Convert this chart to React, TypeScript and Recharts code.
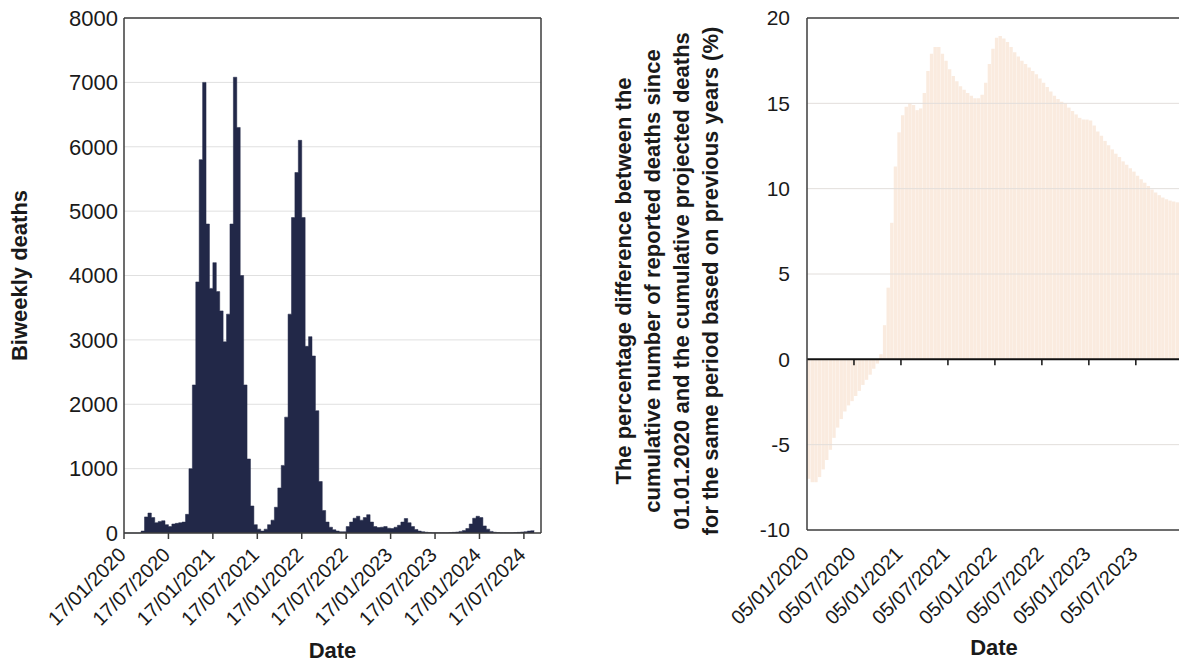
import React from "react";
import {
  Area,
  AreaChart,
  Bar,
  BarChart,
  CartesianGrid,
  ReferenceLine,
  XAxis,
  YAxis,
} from "recharts";

const FONT = '"Liberation Sans", Arial, Helvetica, sans-serif';
const INK = "#1a1a1a";
const FRAME = "#3c3c3c";

// Deaths per two-week period, starting 17/01/2020
const biweeklyDeaths = [
  0, 0, 0, 0, 0, 30, 250, 310, 240, 160,
  180, 190, 130, 100, 140, 150, 160, 170, 290, 1000,
  2300, 3900, 5800, 7000, 4800, 3800, 4200, 3750, 3450, 2970,
  3400, 4800, 7080, 6300, 4000, 2300, 1150, 420, 130, 60,
  30, 60, 130, 200, 400, 700, 1050, 1800, 3400, 4900,
  5600, 6100, 4900, 2900, 3050, 2750, 1900, 800, 350, 170,
  90, 50, 30, 20, 20, 100, 170, 230, 260, 200,
  240, 285, 170, 100, 85, 90, 100, 75, 70, 90,
  120, 170, 225, 160, 100, 55, 30, 20, 12, 8,
  5, 5, 5, 5, 5, 8, 10, 15, 25, 40,
  70, 140, 230, 260, 240, 110, 60, 25, 12, 8,
  5, 5, 5, 5, 8, 10, 15, 20, 30, 35,
  30,
];
const deathsTickLabels = [
  "17/01/2020", "17/07/2020", "17/01/2021", "17/07/2021", "17/01/2022",
  "17/07/2022", "17/01/2023", "17/07/2023", "17/01/2024", "17/07/2024",
];
const deathsYTicks = [0, 1000, 2000, 3000, 4000, 5000, 6000, 7000, 8000];

// Cumulative excess (%) every two weeks, starting 05/01/2020
const excessPercent = [
  -7.0, -7.2, -7.2, -6.9, -6.45, -5.9, -5.3, -4.6, -4.0, -3.5,
  -3.05, -2.7, -2.45, -2.15, -1.85, -1.5, -1.2, -0.9, -0.55, -0.25,
  0.3, 2.0, 4.2, 8.0, 11.3, 13.3, 14.3, 14.8, 15.0, 14.9,
  14.6, 14.7, 15.6, 16.9, 17.9, 18.3, 18.3, 17.9, 17.5, 17.0,
  16.6, 16.3, 16.0, 15.8, 15.6, 15.45, 15.3, 15.3, 15.5, 16.2,
  17.3, 18.2, 18.85, 18.95, 18.8, 18.6, 18.3, 18.0, 17.75, 17.5,
  17.3, 17.1, 16.9, 16.7, 16.45, 16.2, 15.95, 15.7, 15.45, 15.25,
  15.1, 15.0, 14.75, 14.55, 14.35, 14.15, 14.05, 14.05, 14.0, 13.7,
  13.35, 13.1, 12.8, 12.55, 12.3, 12.05, 11.85, 11.6, 11.4, 11.2,
  11.0, 10.75, 10.55, 10.35, 10.15, 9.95, 9.78, 9.62, 9.48, 9.38,
  9.3, 9.25, 9.2,
];
const excessTickLabels = [
  "05/01/2020", "05/07/2020", "05/01/2021", "05/07/2021",
  "05/01/2022", "05/07/2022", "05/01/2023", "05/07/2023",
];
const excessYTicks = [-10, -5, 0, 5, 10, 15, 20];
const excessGrid = [-5, 5, 10, 15];

const excessTitle = [
  "The percentage difference between the",
  "cumulative number of reported deaths since",
  "01.01.2020 and the cumulative projected deaths",
  "for the same period based on previous years (%)",
];

const WEEKS_PER_TICK = 26;

const deathsData = biweeklyDeaths.map((deaths, i) => ({ week: i * 2, deaths }));
const excessData = excessPercent.map((pct, i) => ({ week: i * 2 + 1, pct }));
const deathsTicks = deathsTickLabels.map((_, i) => i * WEEKS_PER_TICK);
const excessTicks = excessTickLabels.map((_, i) => i * WEEKS_PER_TICK);

function DateTick(props: any) {
  const { x, y, payload, labels, dx, dy } = props;
  const label = labels[Math.round(payload.value / WEEKS_PER_TICK)];
  const ax = x + dx;
  const ay = y + dy;
  return (
    <text
      x={ax}
      y={ay}
      transform={`rotate(-45, ${ax}, ${ay})`}
      textAnchor="end"
      fontSize={20}
      fontFamily={FONT}
      fill={INK}
    >
      {label}
    </text>
  );
}

function DeathsTitle(props: any) {
  const vb = props.viewBox;
  const cx = vb.x + 19;
  const cy = vb.y + vb.height / 2;
  return (
    <text
      x={cx}
      y={cy}
      dy="0.35em"
      transform={`rotate(-90, ${cx}, ${cy})`}
      textAnchor="middle"
      fontSize={22}
      fontWeight="bold"
      fontFamily={FONT}
      fill={INK}
    >
      Biweekly deaths
    </text>
  );
}

function ExcessTitle(props: any) {
  const vb = props.viewBox;
  const cy = vb.y + vb.height / 2 + 7;
  return (
    <g>
      {excessTitle.map((line, i) => {
        const cx = vb.x + 33 + i * 29;
        return (
          <text
            key={line}
            x={cx}
            y={cy}
            dy="0.35em"
            transform={`rotate(-90, ${cx}, ${cy})`}
            textAnchor="middle"
            fontSize={22}
            fontWeight="bold"
            fontFamily={FONT}
            fill={INK}
          >
            {line}
          </text>
        );
      })}
    </g>
  );
}

const deathsTickStyle = { fontSize: 22, fill: INK, fontFamily: FONT };
const excessTickStyle = { fontSize: 21, fill: INK, fontFamily: FONT };
const dateLabelStyle = { fontSize: 22, fontWeight: "bold", fill: INK, fontFamily: FONT };

export default function App() {
  return (
    <div
      style={{
        position: "absolute",
        left: 0,
        top: 0,
        width: 1179,
        height: 662,
        overflow: "hidden",
        background: "#ffffff",
      }}
    >
      <div style={{ position: "absolute", left: 0, top: 0 }}>
        <AreaChart
          width={560}
          height={662}
          data={deathsData}
          margin={{ top: 18, right: 19, bottom: 0, left: 0 }}
        >
          <CartesianGrid vertical={false} stroke="#e0e0e0" />
          <XAxis
            dataKey="week"
            type="number"
            domain={[0, 244]}
            ticks={deathsTicks}
            interval={0}
            height={129}
            tickSize={6}
            tickLine={{ stroke: FRAME, strokeWidth: 1.5 }}
            axisLine={{ stroke: FRAME, strokeWidth: 1.5 }}
            tick={(p: any) => <DateTick {...p} labels={deathsTickLabels} dx={3} dy={15} />}
            label={{ value: "Date", position: "insideBottom", offset: 4, style: dateLabelStyle }}
          />
          <YAxis
            domain={[0, 8000]}
            ticks={deathsYTicks}
            interval={0}
            width={124}
            tickLine={false}
            tickMargin={0}
            axisLine={{ stroke: FRAME, strokeWidth: 1.5 }}
            tick={deathsTickStyle}
            label={<DeathsTitle />}
          />
          <Area
            type="stepAfter"
            dataKey="deaths"
            stroke="#222848"
            strokeWidth={0.5}
            fill="#222848"
            fillOpacity={1}
            dot={false}
            activeDot={false}
            isAnimationActive={false}
          />
          <ReferenceLine y={8000} stroke={FRAME} strokeWidth={1.5} />
          <ReferenceLine x={244} stroke={FRAME} strokeWidth={1.5} />
        </AreaChart>
      </div>

      <div style={{ position: "absolute", left: 590, top: 0 }}>
        <BarChart
          width={595}
          height={662}
          data={excessData}
          margin={{ top: 18, right: 4, bottom: 0, left: 0 }}
        >
          <XAxis
            dataKey="week"
            type="number"
            domain={[0, 207]}
            ticks={excessTicks}
            interval={0}
            height={132}
            tickLine={false}
            axisLine={{ stroke: FRAME, strokeWidth: 1.5 }}
            tick={(p: any) => <DateTick {...p} labels={excessTickLabels} dx={3} dy={17} />}
            label={{ value: "Date", position: "insideBottom", offset: 7, style: dateLabelStyle }}
          />
          <YAxis
            domain={[-10, 20]}
            ticks={excessYTicks}
            interval={0}
            width={217}
            tickLine={false}
            tickMargin={11}
            axisLine={{ stroke: FRAME, strokeWidth: 1.5 }}
            tick={excessTickStyle}
            label={<ExcessTitle />}
          />
          <Bar dataKey="pct" fill="#faebdf" barSize={3.4} isAnimationActive={false} />
          {excessGrid.map((v) => (
            <ReferenceLine key={v} y={v} stroke="#e2dedb" />
          ))}
          <ReferenceLine y={20} stroke={FRAME} strokeWidth={1.5} />
          <ReferenceLine y={0} stroke="#111111" strokeWidth={2} />
          {excessTicks.slice(1).map((w) => (
            <ReferenceLine
              key={w}
              segment={[
                { x: w, y: 0 },
                { x: w, y: -0.35 },
              ]}
              stroke="#111111"
              strokeWidth={1.5}
            />
          ))}
        </BarChart>
      </div>
    </div>
  );
}
